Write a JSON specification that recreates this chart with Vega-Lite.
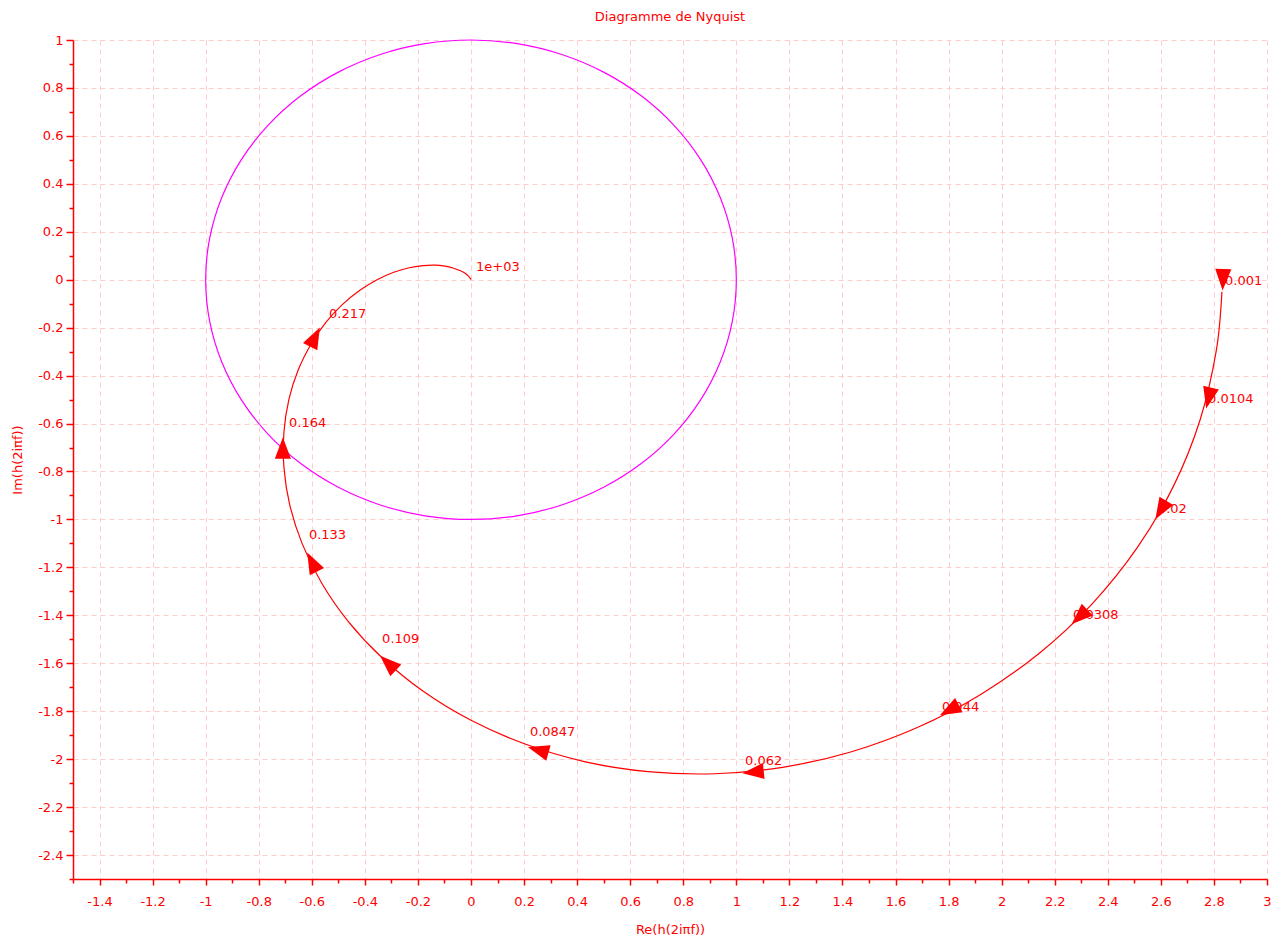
{
  "$schema": "https://vega.github.io/schema/vega-lite/v6.json",
  "width": 1194,
  "height": 839,
  "autosize": "none",
  "padding": {"left": 73, "top": 40, "right": 11, "bottom": 60},
  "background": "white",
  "view": {"stroke": null},
  "title": {"text": "Diagramme de Nyquist", "color": "#ff0000", "font": "DejaVu Sans", "fontSize": 13, "fontWeight": "normal", "offset": 10, "anchor": "middle"},
  "datasets": {
    "circle": [
      {"a": 0, "re": 1, "im": 0}, {"a": 1, "re": 0.9848, "im": 0.1736}, {"a": 2, "re": 0.9397, "im": 0.342}, {"a": 3, "re": 0.866, "im": 0.5},
      {"a": 4, "re": 0.766, "im": 0.6428}, {"a": 5, "re": 0.6428, "im": 0.766}, {"a": 6, "re": 0.5, "im": 0.866}, {"a": 7, "re": 0.342, "im": 0.9397},
      {"a": 8, "re": 0.1736, "im": 0.9848}, {"a": 9, "re": 0, "im": 1}, {"a": 10, "re": -0.1736, "im": 0.9848}, {"a": 11, "re": -0.342, "im": 0.9397},
      {"a": 12, "re": -0.5, "im": 0.866}, {"a": 13, "re": -0.6428, "im": 0.766}, {"a": 14, "re": -0.766, "im": 0.6428}, {"a": 15, "re": -0.866, "im": 0.5},
      {"a": 16, "re": -0.9397, "im": 0.342}, {"a": 17, "re": -0.9848, "im": 0.1736}, {"a": 18, "re": -1, "im": 0}, {"a": 19, "re": -0.9848, "im": -0.1736},
      {"a": 20, "re": -0.9397, "im": -0.342}, {"a": 21, "re": -0.866, "im": -0.5}, {"a": 22, "re": -0.766, "im": -0.6428}, {"a": 23, "re": -0.6428, "im": -0.766},
      {"a": 24, "re": -0.5, "im": -0.866}, {"a": 25, "re": -0.342, "im": -0.9397}, {"a": 26, "re": -0.1736, "im": -0.9848}, {"a": 27, "re": 0, "im": -1},
      {"a": 28, "re": 0.1736, "im": -0.9848}, {"a": 29, "re": 0.342, "im": -0.9397}, {"a": 30, "re": 0.5, "im": -0.866}, {"a": 31, "re": 0.6428, "im": -0.766},
      {"a": 32, "re": 0.766, "im": -0.6428}, {"a": 33, "re": 0.866, "im": -0.5}, {"a": 34, "re": 0.9397, "im": -0.342}, {"a": 35, "re": 0.9848, "im": -0.1736}
    ],
    "curve": [
      {"i": 0, "re": 2.83, "im": -0.05}, {"i": 1, "re": 2.809, "im": -0.295}, {"i": 2, "re": 2.748, "im": -0.584}, {"i": 3, "re": 2.648, "im": -0.86},
      {"i": 4, "re": 2.511, "im": -1.118}, {"i": 5, "re": 2.341, "im": -1.352}, {"i": 6, "re": 2.143, "im": -1.557}, {"i": 7, "re": 1.921, "im": -1.73},
      {"i": 8, "re": 1.682, "im": -1.868}, {"i": 9, "re": 1.431, "im": -1.97}, {"i": 10, "re": 1.174, "im": -2.034}, {"i": 11, "re": 0.918, "im": -2.061},
      {"i": 12, "re": 0.667, "im": -2.052}, {"i": 13, "re": 0.427, "im": -2.01}, {"i": 14, "re": 0.204, "im": -1.937}, {"i": 15, "re": 0, "im": -1.838},
      {"i": 16, "re": -0.18, "im": -1.717}, {"i": 17, "re": -0.335, "im": -1.577}, {"i": 18, "re": -0.463, "im": -1.425}, {"i": 19, "re": -0.563, "im": -1.265},
      {"i": 20, "re": -0.636, "im": -1.102}, {"i": 21, "re": -0.683, "im": -0.94}, {"i": 22, "re": -0.705, "im": -0.783}, {"i": 23, "re": -0.705, "im": -0.635},
      {"i": 24, "re": -0.686, "im": -0.498}, {"i": 25, "re": -0.651, "im": -0.376}, {"i": 26, "re": -0.603, "im": -0.269}, {"i": 27, "re": -0.547, "im": -0.178},
      {"i": 28, "re": -0.484, "im": -0.103}, {"i": 29, "re": -0.419, "im": -0.044}, {"i": 30, "re": -0.354, "im": 0}, {"i": 31, "re": -0.291, "im": 0.031},
      {"i": 32, "re": -0.233, "im": 0.05}, {"i": 33, "re": -0.181, "im": 0.059}, {"i": 34, "re": -0.136, "im": 0.061}, {"i": 35, "re": -0.098, "im": 0.057},
      {"i": 36, "re": -0.068, "im": 0.049}, {"i": 37, "re": -0.035, "im": 0.035}, {"i": 38, "re": -0.015, "im": 0.021}, {"i": 39, "re": -0.003, "im": 0.007},
      {"i": 40, "re": 0, "im": 0}
    ],
    "arrows": [
      {"f": "0.001", "re": 2.834, "im": 0.0, "dir": 182},
      {"f": "0.0104", "re": 2.78, "im": -0.494, "dir": 193},
      {"f": "0.02", "re": 2.6, "im": -0.961, "dir": 211},
      {"f": "0.0308", "re": 2.293, "im": -1.407, "dir": 227},
      {"f": "0.044", "re": 1.803, "im": -1.796, "dir": 242},
      {"f": "0.062", "re": 1.063, "im": -2.054, "dir": 264},
      {"f": "0.0847", "re": 0.253, "im": -1.962, "dir": 286},
      {"f": "0.109", "re": -0.313, "im": -1.599, "dir": 313},
      {"f": "0.133", "re": -0.599, "im": -1.178, "dir": 333},
      {"f": "0.164", "re": -0.709, "im": -0.702, "dir": 0},
      {"f": "0.217", "re": -0.588, "im": -0.239, "dir": 27}
    ],
    "labels": [
      {"t": "0.001", "re": 2.842, "im": -0.022},
      {"t": "0.0104", "re": 2.778, "im": -0.514},
      {"t": "0.02", "re": 2.589, "im": -0.973},
      {"t": "0.0308", "re": 2.269, "im": -1.416},
      {"t": "0.044", "re": 1.775, "im": -1.799},
      {"t": "0.062", "re": 1.033, "im": -2.025},
      {"t": "0.0847", "re": 0.222, "im": -1.904},
      {"t": "0.109", "re": -0.335, "im": -1.516},
      {"t": "0.133", "re": -0.611, "im": -1.082},
      {"t": "0.164", "re": -0.686, "im": -0.615},
      {"t": "0.217", "re": -0.535, "im": -0.16},
      {"t": "1e+03", "re": 0.019, "im": 0.036}
    ]
  },
  "resolve": {"scale": {"x": "shared", "y": "shared"}, "axis": {"x": "independent", "y": "independent"}},
  "layer": [
    {
      "data": {"name": "circle"},
      "mark": {"type": "line", "interpolate": "cardinal-closed", "color": "#ff00ff", "strokeWidth": 1.2},
      "encoding": {
        "x": {"field": "re", "type": "quantitative", "scale": {"domain": [-1.5, 3], "nice": false, "zero": false},
          "axis": {"orient": "bottom", "values": [-1.4, -1.2, -1, -0.8, -0.6, -0.4, -0.2, 0, 0.2, 0.4, 0.6, 0.8, 1, 1.2, 1.4, 1.6, 1.8, 2, 2.2, 2.4, 2.6, 2.8, 3],
            "labelExpr": "'' + datum.value", "grid": true, "gridColor": "#ffcccc", "gridDash": [5, 4], "gridWidth": 1,
            "domainColor": "#ff0000", "domainWidth": 1.5, "tickColor": "#ff0000", "tickSize": 6, "tickWidth": 1.5,
            "labelColor": "#ff0000", "labelFont": "DejaVu Sans", "labelFontSize": 13, "labelPadding": 10, "labelFlush": false, "labelOverlap": false,
            "title": "Re(h(2iπf))", "titleColor": "#ff0000", "titleFont": "DejaVu Sans", "titleFontSize": 13, "titleFontWeight": "normal",
            "titleX": 597, "titleY": 54, "titleBaseline": "alphabetic", "titleAlign": "center"}},
        "y": {"field": "im", "type": "quantitative", "scale": {"domain": [-2.5, 1], "nice": false, "zero": false},
          "axis": {"orient": "left", "values": [-2.4, -2.2, -2, -1.8, -1.6, -1.4, -1.2, -1, -0.8, -0.6, -0.4, -0.2, 0, 0.2, 0.4, 0.6, 0.8, 1],
            "labelExpr": "'' + datum.value", "grid": true, "gridColor": "#ffcccc", "gridDash": [5, 4], "gridWidth": 1,
            "domainColor": "#ff0000", "domainWidth": 1.5, "tickColor": "#ff0000", "tickSize": 7, "tickWidth": 1.5,
            "labelColor": "#ff0000", "labelFont": "DejaVu Sans", "labelFontSize": 13, "labelPadding": 3, "labelFlush": false, "labelOverlap": false,
            "title": "Im(h(2iπf))", "titleColor": "#ff0000", "titleFont": "DejaVu Sans", "titleFontSize": 13, "titleFontWeight": "normal",
            "titleX": -56, "titleY": 419.5, "titleBaseline": "middle", "titleAlign": "center", "titleAngle": 270}},
        "order": {"field": "a", "type": "quantitative"}
      }
    },
    {
      "data": {"name": "curve"},
      "mark": {"type": "line", "interpolate": "cardinal", "color": "#ff0000", "strokeWidth": 1.2},
      "encoding": {
        "x": {"field": "re", "type": "quantitative",
          "axis": {"orient": "bottom", "values": [-1.5, -1.3, -1.1, -0.9, -0.7, -0.5, -0.3, -0.1, 0.1, 0.3, 0.5, 0.7, 0.9, 1.1, 1.3, 1.5, 1.7, 1.9, 2.1, 2.3, 2.5, 2.7, 2.9],
            "labels": false, "grid": false, "domain": false, "title": null, "tickColor": "#ff0000", "tickSize": 4, "tickWidth": 1.5}},
        "y": {"field": "im", "type": "quantitative",
          "axis": {"orient": "left", "values": [0.9, 0.7, 0.5, 0.3, 0.1, -0.1, -0.3, -0.5, -0.7, -0.9, -1.1, -1.3, -1.5, -1.7, -1.9, -2.1, -2.3, -2.5],
            "labels": false, "grid": false, "domain": false, "title": null, "tickColor": "#ff0000", "tickSize": 4, "tickWidth": 1.5}},
        "order": {"field": "i", "type": "quantitative"}
      }
    },
    {
      "data": {"name": "arrows"},
      "mark": {"type": "point", "shape": "M0,-1L-0.75,1L0.75,1Z", "filled": true, "color": "#ff0000", "size": 460, "opacity": 1},
      "encoding": {
        "x": {"field": "re", "type": "quantitative", "axis": null},
        "y": {"field": "im", "type": "quantitative", "axis": null},
        "angle": {"field": "dir", "type": "quantitative", "scale": null}
      }
    },
    {
      "data": {"name": "labels"},
      "mark": {"type": "text", "align": "left", "baseline": "alphabetic", "font": "DejaVu Sans", "fontSize": 13, "color": "#ff0000"},
      "encoding": {
        "x": {"field": "re", "type": "quantitative", "axis": null},
        "y": {"field": "im", "type": "quantitative", "axis": null},
        "text": {"field": "t"}
      }
    }
  ]
}
